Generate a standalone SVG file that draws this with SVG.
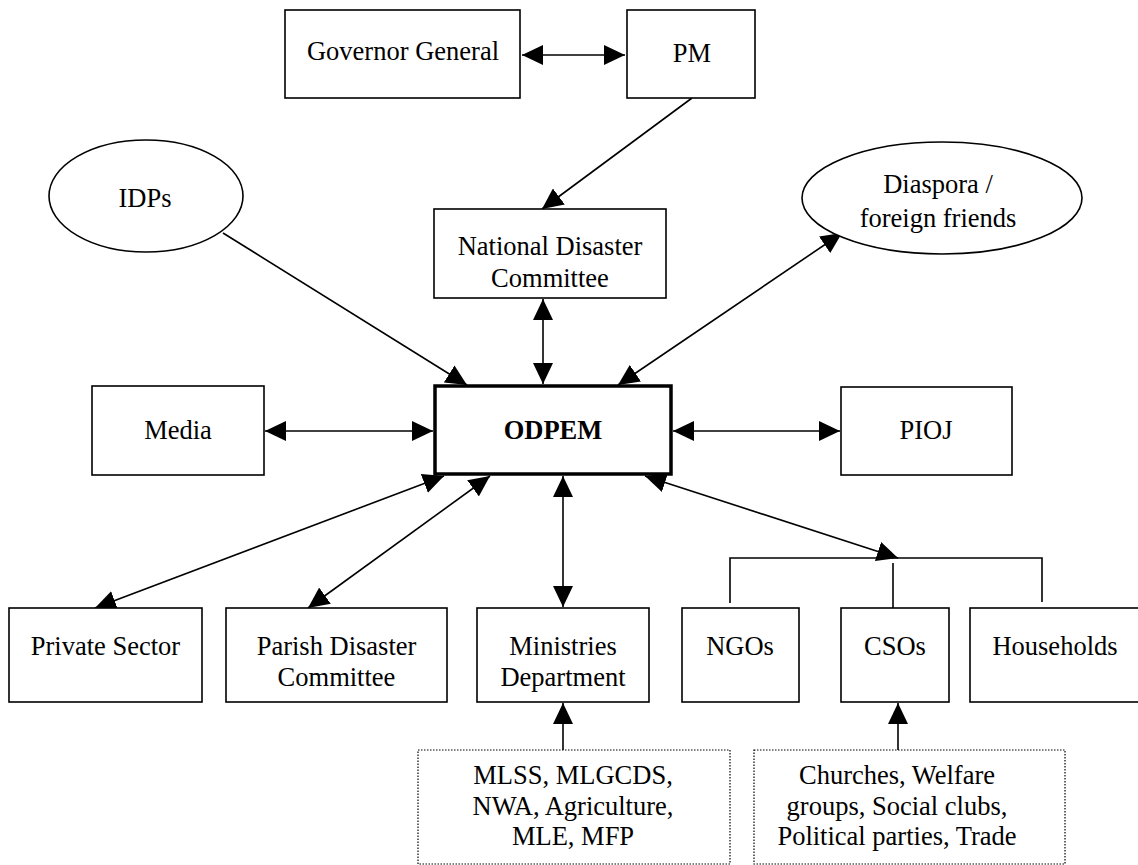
<svg xmlns="http://www.w3.org/2000/svg" width="1138" height="865" viewBox="0 0 1138 865">
<style>
.box{fill:#fff;stroke:#000;stroke-width:1.6}
.main{fill:#fff;stroke:#000;stroke-width:3.5}
.dot{fill:#fff;stroke:#000;stroke-width:1.2;stroke-dasharray:1.5 1.5}
.ln{fill:none;stroke:#000;stroke-width:1.6}
text{font-family:"Liberation Serif","Times New Roman",serif;font-size:26.5px;fill:#000;text-anchor:middle}
.b{font-weight:bold}
</style>
<defs>
<marker id="ah" markerUnits="userSpaceOnUse" markerWidth="22" markerHeight="20" refX="21" refY="10" orient="auto-start-reverse">
<path d="M0,0 L21,10 L0,20 z" fill="#000"/>
</marker>
</defs>
<rect width="1138" height="865" fill="#fff"/>

<g id="connectors">
<line class="ln" x1="522" y1="55" x2="625" y2="55" marker-start="url(#ah)" marker-end="url(#ah)"/>
<line class="ln" x1="692" y1="98" x2="542" y2="209" marker-end="url(#ah)"/>
<line class="ln" x1="223" y1="233" x2="467" y2="385" marker-end="url(#ah)"/>
<line class="ln" x1="543" y1="299" x2="543" y2="384" marker-start="url(#ah)" marker-end="url(#ah)"/>
<line class="ln" x1="618" y1="385" x2="842" y2="233" marker-start="url(#ah)" marker-end="url(#ah)"/>
<line class="ln" x1="265" y1="431" x2="433" y2="431" marker-start="url(#ah)" marker-end="url(#ah)"/>
<line class="ln" x1="673" y1="431" x2="840" y2="431" marker-start="url(#ah)" marker-end="url(#ah)"/>
<line class="ln" x1="444" y1="476" x2="95" y2="608" marker-start="url(#ah)" marker-end="url(#ah)"/>
<line class="ln" x1="490" y1="476" x2="308" y2="608" marker-start="url(#ah)" marker-end="url(#ah)"/>
<line class="ln" x1="563" y1="476" x2="563" y2="607" marker-start="url(#ah)" marker-end="url(#ah)"/>
<line class="ln" x1="645" y1="476" x2="898" y2="558" marker-start="url(#ah)" marker-end="url(#ah)"/>
<path class="ln" d="M730,603 V558 H1042 V602"/>
<line class="ln" x1="893" y1="563" x2="893" y2="608"/>
<line class="ln" x1="563" y1="762" x2="563" y2="703" marker-end="url(#ah)"/>
<line class="ln" x1="898" y1="762" x2="898" y2="703" marker-end="url(#ah)"/>
</g>

<g id="governor-general"><rect class="box" x="285" y="10" width="235" height="88"/><text x="403" y="60">Governor General</text></g>
<g id="pm"><rect class="box" x="627" y="10" width="128" height="88"/><text x="692" y="62">PM</text></g>
<g id="idps"><ellipse class="box" cx="146" cy="196" rx="97" ry="56"/><text x="145" y="207">IDPs</text></g>
<g id="ndc"><rect class="box" x="434" y="209" width="232" height="89"/><text x="550" y="255">National Disaster</text><text x="550" y="287">Committee</text></g>
<g id="diaspora"><ellipse class="box" cx="942" cy="198" rx="140" ry="56"/><text x="938" y="193">Diaspora /</text><text x="938" y="227">foreign friends</text></g>
<g id="media"><rect class="box" x="92" y="386" width="172" height="89"/><text x="178" y="439">Media</text></g>
<g id="odpem"><rect class="main" x="435" y="386" width="236" height="88"/><text class="b" x="553" y="439">ODPEM</text></g>
<g id="pioj"><rect class="box" x="841" y="387" width="171" height="88"/><text x="926" y="439">PIOJ</text></g>
<g id="private-sector"><rect class="box" x="9" y="608" width="193" height="94"/><text x="105.5" y="655">Private Sector</text></g>
<g id="parish"><rect class="box" x="226" y="608" width="221" height="94"/><text x="336.5" y="655">Parish Disaster</text><text x="336.5" y="686">Committee</text></g>
<g id="ministries"><rect class="box" x="477" y="608" width="172" height="94"/><text x="563" y="655">Ministries</text><text x="563" y="686">Department</text></g>
<g id="ngos"><rect class="box" x="682" y="608" width="117" height="94"/><text x="740" y="655">NGOs</text></g>
<g id="csos"><rect class="box" x="841" y="608" width="108" height="94"/><text x="895" y="655">CSOs</text></g>
<g id="households"><rect class="box" x="970" y="608" width="175" height="94"/><text x="1055" y="655">Households</text></g>
<g id="ministries-list"><rect class="dot" x="418" y="750" width="312" height="114"/><text x="573" y="784">MLSS, MLGCDS,</text><text x="573" y="815">NWA, Agriculture,</text><text x="573" y="845">MLE, MFP</text></g>
<g id="cso-list"><rect class="dot" x="754" y="750" width="311" height="114"/><text x="897" y="784">Churches, Welfare</text><text x="897" y="815">groups, Social clubs,</text><text x="897" y="845">Political parties, Trade</text></g>
</svg>
